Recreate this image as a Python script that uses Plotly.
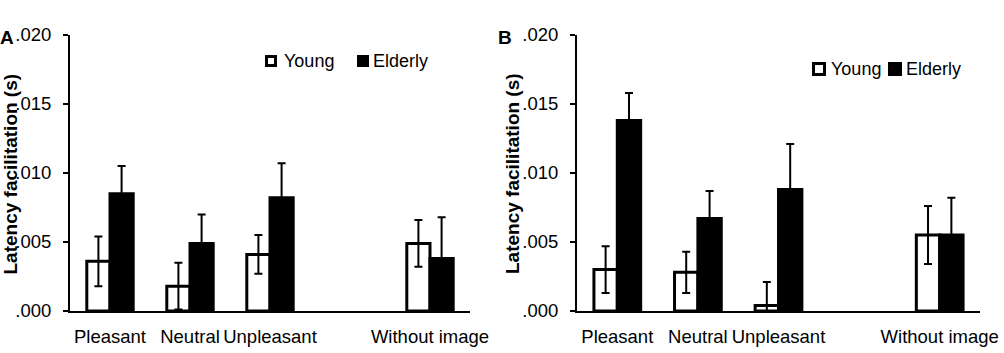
import plotly.graph_objects as go

# ---- data ----
tick_labels = ["Pleasant", "Neutral", "Unpleasant", "", "Without image"]
bar_categories = ["Pleasant", "Neutral", "Unpleasant", "Without image"]

y_tickvals = [0.0, 0.005, 0.010, 0.015, 0.020]
y_ticktext = [".000", ".005", ".010", ".015", ".020"]

a_young = [0.0036, 0.0018, 0.0041, 0.0049]
a_young_err = [0.0018, 0.0017, 0.0014, 0.0017]
a_elderly = [0.0085, 0.0049, 0.0082, 0.0038]
a_elderly_err = [0.0020, 0.0021, 0.0025, 0.0030]

b_young = [0.0030, 0.0028, 0.0004, 0.0055]
b_young_err = [0.0017, 0.0015, 0.0017, 0.0021]
b_elderly = [0.0138, 0.0067, 0.0088, 0.0055]
b_elderly_err = [0.0020, 0.0020, 0.0033, 0.0027]

series_names = ["Young", "Elderly"]
y_title = "Latency facilitation (s)"
panel_letters = ["A", "B"]

FONT = "Liberation Sans, Arial, sans-serif"
x_idx = [tick_labels.index(c) for c in bar_categories]

W, H = 1004, 353
ML, MR, MT, MB = 70, 24, 35, 42
PW = W - ML - MR
PH = H - MT - MB


def px(xp):
    return (xp - ML) / PW


def py(yp):
    return 1 - (yp - MT) / PH


fig = go.Figure()


def add_pair(young, young_err, elderly, elderly_err, xa, ya):
    fig.add_trace(go.Bar(
        x=x_idx, y=young, name=series_names[0], xaxis=xa, yaxis=ya, showlegend=False,
        marker=dict(color="white", line=dict(color="black", width=3)),
        error_y=dict(type="data", array=young_err, color="black", thickness=2, width=4),
    ))
    fig.add_trace(go.Bar(
        x=x_idx, y=elderly, name=series_names[1], xaxis=xa, yaxis=ya, showlegend=False,
        marker=dict(color="black", line=dict(color="black", width=3)),
        error_y=dict(type="data", array=elderly_err, color="black", thickness=2, width=4),
    ))


add_pair(a_young, a_young_err, a_elderly, a_elderly_err, "x", "y")
add_pair(b_young, b_young_err, b_elderly, b_elderly_err, "x2", "y2")

xa_common = dict(
    range=[-0.5, 4.5], tickvals=list(range(len(tick_labels))), ticktext=tick_labels,
    showline=True, linecolor="black", linewidth=2, ticks="", showgrid=False,
    zeroline=False, ticklabelstandoff=8,
    tickfont=dict(family=FONT, size=18.5, color="black"),
)
ya_common = dict(
    range=[0, 0.02], tickvals=y_tickvals, ticktext=y_ticktext,
    showline=True, linecolor="black", linewidth=2, ticks="outside", ticklen=5,
    tickwidth=2, tickcolor="black", showgrid=False, zeroline=False,
    ticklabelstandoff=8,
    tickfont=dict(family=FONT, size=18.5, color="black"),
)

fig.update_layout(
    width=W, height=H,
    margin=dict(l=ML, r=MR, t=MT, b=MB, autoexpand=False),
    paper_bgcolor="white", plot_bgcolor="white",
    barmode="group", bargap=0.42, bargroupgap=0,
    font=dict(family=FONT, size=18, color="black"),
    xaxis=dict(domain=[0, px(470)], anchor="y", **xa_common),
    yaxis=dict(domain=[0, 1], anchor="x", **ya_common),
    xaxis2=dict(domain=[px(577), 1], anchor="y2", **xa_common),
    yaxis2=dict(domain=[0, 1], anchor="x2", **ya_common),
    showlegend=False,
)

# panel letters and rotated y-axis titles
letter_x = [7, 505]
title_x = [9.5, 512]
for letter, lx, tx in zip(panel_letters, letter_x, title_x):
    fig.add_annotation(text="<b>" + letter + "</b>", xref="paper", yref="paper",
                       x=px(lx), y=py(37), xanchor="center", yanchor="middle",
                       showarrow=False, font=dict(family=FONT, size=19, color="black"))
    fig.add_annotation(text="<b>" + y_title + "</b>", xref="paper", yref="paper",
                       x=px(tx), y=py(174), xanchor="center", yanchor="middle",
                       textangle=-90, showarrow=False, borderpad=0,
                       font=dict(family=FONT, size=19, color="black"))

# legend keys (swatch boxes + labels) for each panel
legend_specs = [
    # (young box left, elderly box left, young text x, elderly text x, centre y, box size)
    (265, 357, 282, 371, 61, 12),
    (812, 888, 829, 904, 69, 14),
]
for yb, eb, yt, et, cy, s in legend_specs:
    fig.add_shape(type="rect", xref="paper", yref="paper",
                  x0=px(yb + 1.5), x1=px(yb + s - 1.5), y0=py(cy - s / 2 + 1.5), y1=py(cy + s / 2 - 1.5),
                  line=dict(color="black", width=3), fillcolor="white")
    fig.add_shape(type="rect", xref="paper", yref="paper",
                  x0=px(eb), x1=px(eb + s), y0=py(cy - s / 2), y1=py(cy + s / 2),
                  line=dict(color="black", width=0), fillcolor="black")
    for name, tx in zip(series_names, [yt, et]):
        fig.add_annotation(text=name, xref="paper", yref="paper", x=px(tx), y=py(cy),
                           xanchor="left", yanchor="middle", showarrow=False,
                           font=dict(family=FONT, size=18, color="black"))

fig.write_html("out.html")
